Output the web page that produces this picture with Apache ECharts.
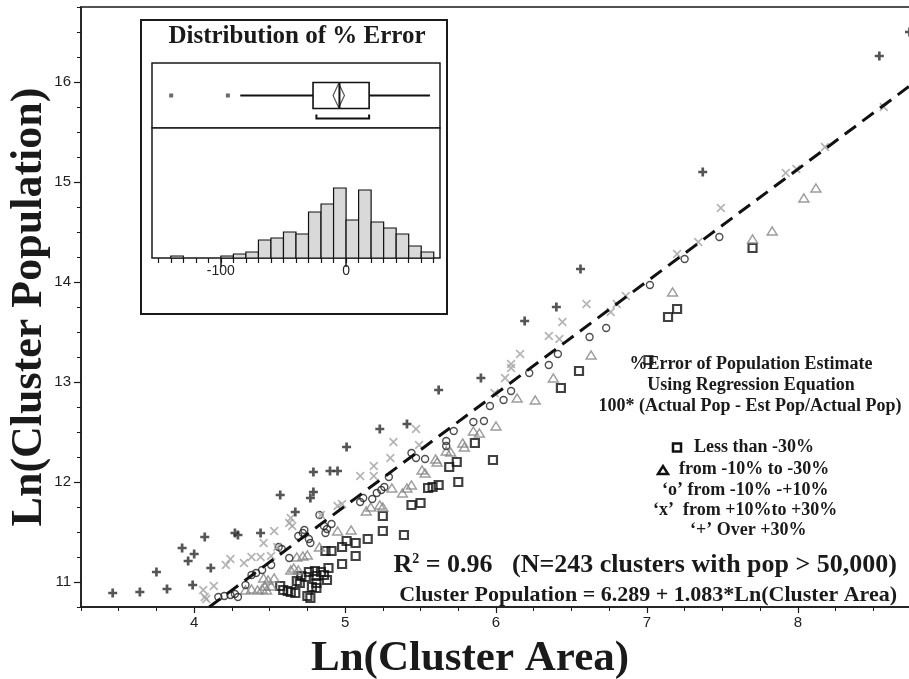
<!DOCTYPE html>
<html><head><meta charset="utf-8">
<script src="https://cdn.jsdelivr.net/npm/echarts@6/dist/echarts.min.js"></script>
<style>html,body{margin:0;padding:0;background:#fff}#c{width:909px;height:679px}</style>
</head><body><div id="c"></div>
<script>
// ---- Scatter data: [Ln(Cluster Area), Ln(Cluster Population)] by % error class ----
const overPlus30 = [[3.46,10.89],[3.64,10.90],[3.75,11.10],[3.82,10.93],[3.92,11.34],[3.96,11.21],[3.99,10.97],[4.00,11.28],[4.07,11.45],[4.11,11.14],[4.27,11.49],[4.29,11.47],[4.44,11.49],[4.57,11.87],[4.67,11.70],[4.77,11.84],[4.79,11.90],[4.79,12.10],[4.90,12.11],[4.95,12.11],[5.01,12.35],[5.23,12.53],[5.41,12.58],[5.62,12.92],[5.90,13.04],[6.19,13.61],[6.40,13.75],[6.56,14.13],[7.37,15.10],[8.54,16.26],[8.74,16.50]];
const plus10to30 = [[4.06,10.92],[4.07,10.85],[4.08,10.83],[4.13,10.96],[4.21,11.17],[4.24,11.23],[4.33,11.19],[4.38,11.25],[4.44,11.25],[4.46,11.39],[4.51,11.26],[4.53,11.51],[4.55,11.35],[4.63,11.59],[4.65,11.56],[4.64,11.64],[4.84,11.67],[4.95,11.76],[4.98,11.78],[5.10,12.06],[5.19,12.16],[5.19,12.06],[5.30,12.24],[5.32,12.40],[5.47,12.53],[5.49,12.37],[5.99,12.89],[6.06,13.04],[6.10,13.14],[6.10,13.18],[6.16,13.28],[6.35,13.46],[6.42,13.43],[6.44,13.60],[6.60,13.78],[6.76,13.70],[6.80,13.78],[6.86,13.86],[7.20,14.28],[7.34,14.40],[7.49,14.74],[7.92,15.09],[7.99,15.13],[8.18,15.35],[8.57,15.75]];
const within10 = [[4.16,10.85],[4.20,10.86],[4.24,10.87],[4.27,10.88],[4.29,10.85],[4.34,10.97],[4.38,11.07],[4.41,11.09],[4.45,11.12],[4.51,11.17],[4.56,11.35],[4.58,11.33],[4.63,11.24],[4.69,11.46],[4.72,11.49],[4.73,11.52],[4.76,11.43],[4.77,11.39],[4.83,11.67],[4.86,11.56],[4.88,11.53],[4.87,11.49],[4.91,11.58],[5.10,11.80],[5.12,11.84],[5.18,11.83],[5.21,11.89],[5.24,11.92],[5.26,11.95],[5.29,12.05],[5.44,12.29],[5.47,12.24],[5.53,12.23],[5.67,12.41],[5.67,12.36],[5.72,12.51],[5.85,12.60],[5.92,12.61],[5.96,12.76],[6.05,12.82],[6.10,12.91],[6.22,13.09],[6.35,13.17],[6.41,13.28],[6.62,13.45],[6.73,13.54],[7.02,13.97],[7.25,14.23],[7.48,14.45]];
const minus10to30 = [[4.34,10.92],[4.38,10.93],[4.42,10.92],[4.45,10.93],[4.48,10.92],[4.47,10.96],[4.51,10.96],[4.46,11.04],[4.49,11.02],[4.53,11.04],[4.64,11.12],[4.66,11.14],[4.69,11.12],[4.68,11.25],[4.72,11.26],[4.75,11.27],[4.83,11.35],[4.95,11.51],[5.04,11.52],[5.14,11.71],[5.17,11.75],[5.23,11.77],[5.25,11.75],[5.31,11.94],[5.38,11.89],[5.41,11.94],[5.44,11.97],[5.51,12.12],[5.53,12.09],[5.60,12.23],[5.61,12.20],[5.67,12.31],[5.70,12.30],[5.78,12.39],[5.79,12.35],[5.85,12.51],[5.89,12.49],[6.00,12.56],[6.14,12.84],[6.26,12.82],[6.38,13.04],[6.63,13.27],[7.17,13.90],[7.70,14.43],[7.83,14.51],[8.04,14.84],[8.12,14.94]];
const belowMinus30 = [[4.57,10.96],[4.59,10.92],[4.62,10.91],[4.64,10.90],[4.67,10.89],[4.68,11.01],[4.71,11.06],[4.70,10.99],[4.74,11.05],[4.76,11.10],[4.80,11.11],[4.81,11.06],[4.84,11.10],[4.86,11.07],[4.88,11.02],[4.89,11.14],[4.78,10.95],[4.81,10.99],[4.81,10.94],[4.75,10.86],[4.77,10.84],[4.87,11.31],[4.91,11.31],[4.98,11.18],[4.98,11.35],[5.01,11.41],[5.07,11.39],[5.07,11.26],[5.15,11.43],[5.25,11.66],[5.25,11.51],[5.39,11.47],[5.44,11.77],[5.50,11.79],[5.55,11.94],[5.58,11.95],[5.62,11.97],[5.69,12.15],[5.74,12.20],[5.75,12.00],[5.86,12.39],[5.98,12.22],[6.43,12.94],[6.55,13.11],[7.01,13.22],[7.14,13.65],[7.20,13.73],[7.70,14.34]];
const regressionLine = [[4.10,10.75],[8.75,15.97]];
const xTickLabels = [4,5,6,7,8];
const yTickLabels = [11,12,13,14,15,16];

// ---- Inset: distribution of % error ----
const histBinStart = [-140,-130,-120,-110,-100,-90,-80,-70,-60,-50,-40,-30,-20,-10,0,10,20,30,40,50,60];
const histCounts   = [1,0,0,0,1,2,3,9,10,13,12,23,27,35,19,34,18,15,12,6,3];
const histBinWidth = 10;
const boxStats = [-84.5,-26.4,-5.3,18.4,67];   // whisker low, Q1, median, Q3, whisker high
const meanDiamond = [-10.4,-5.9,-1.3];         // CI low, mean, CI high
const shortestHalf = [-23.7,18.4];
const boxOutliers = [-139.7,-94.4];
const insetMinorTicks = [-150,-140,-130,-120,-110,-100,-90,-80,-70,-60,-50,-40,-30,-20,-10,0,10,20,30,40,50,60,70];
const insetTickLabels = [-100,0];

const SERIF = '"Liberation Serif","Times New Roman",serif';
const SANS = '"Liberation Sans Narrow","Liberation Sans",Arial,sans-serif';
const INK = '#1a1a1a';

const plusPath = 'path://M3.5,0H6.5V3.5H10V6.5H6.5V10H3.5V6.5H0V3.5H3.5Z';
const xPath = 'path://M0,1.3L1.3,0L5,3.7L8.7,0L10,1.3L6.3,5L10,8.7L8.7,10L5,6.3L1.3,10L0,8.7L3.7,5Z';

const chart = echarts.init(document.getElementById('c'), null, {renderer:'canvas'});

const histData = histBinStart.map((b,i)=>[b, b+histBinWidth, histCounts[i]]);
const boxRow = [...boxStats, ...meanDiamond, ...shortestHalf];

const option = {
  backgroundColor:'#fff',
  animation:false,
  grid:[
    {left:81, top:7, width:830, height:600, show:true, borderColor:INK, borderWidth:1.5, backgroundColor:'transparent', outerBoundsMode:'none', containLabel:false},
    {left:152, top:63, width:288, height:65, show:true, borderColor:INK, borderWidth:1.5, backgroundColor:'#fff', outerBoundsMode:'none', containLabel:false},
    {left:152, top:128, width:288, height:130, show:true, borderColor:INK, borderWidth:1.5, backgroundColor:'#fff', outerBoundsMode:'none', containLabel:false}
  ],
  xAxis:[
    {gridIndex:0, type:'value', position:'bottom', min:3.25, max:8.75,
     axisLine:{show:true, lineStyle:{color:INK, width:1.5}},
     axisTick:{show:true, customValues:xTickLabels, length:6, lineStyle:{color:INK, width:1.2}},
     axisLabel:{customValues:xTickLabels, color:'#222', fontSize:15, fontFamily:SANS, margin:8},
     splitLine:{show:false},
     name:'Ln(Cluster Area)', nameLocation:'middle', nameGap:30,
     nameTextStyle:{fontFamily:SERIF, fontWeight:'bold', fontSize:43, color:INK, padding:[0,52,0,0]}},
    {gridIndex:0, type:'value', position:'bottom', min:3.25, max:8.75, interval:0.25,
     axisLine:{show:false}, axisTick:{show:true, length:4, lineStyle:{color:INK, width:1}},
     axisLabel:{show:false}, splitLine:{show:false}},
    {gridIndex:1, type:'value', min:-155, max:75, show:false},
    {gridIndex:2, type:'value', position:'bottom', min:-155, max:75,
     axisLine:{show:false},
     axisTick:{show:true, customValues:insetMinorTicks, length:5, lineStyle:{color:INK, width:1.2}},
     axisLabel:{show:false}, splitLine:{show:false}},
    {gridIndex:2, type:'value', position:'bottom', min:-155, max:75,
     axisLine:{show:false},
     axisTick:{show:true, customValues:insetTickLabels, length:9, lineStyle:{color:INK, width:1.5}},
     axisLabel:{customValues:insetTickLabels, color:'#222', fontSize:14, fontFamily:SANS, margin:6},
     splitLine:{show:false}}
  ],
  yAxis:[
    {gridIndex:0, type:'value', position:'left', min:10.75, max:16.75,
     axisLine:{show:true, lineStyle:{color:INK, width:1.5}},
     axisTick:{show:true, customValues:yTickLabels, length:7, lineStyle:{color:INK, width:1.2}},
     axisLabel:{customValues:yTickLabels, color:'#222', fontSize:15, fontFamily:SANS, margin:10},
     splitLine:{show:false},
     name:'Ln(Cluster Population)', nameLocation:'middle', nameGap:29, nameRotate:90, nameMoveOverlap:false,
     nameTextStyle:{fontFamily:SERIF, fontWeight:'bold', fontSize:44, color:INK}},
    {gridIndex:0, type:'value', position:'left', min:10.75, max:16.75, interval:0.25,
     axisLine:{show:false}, axisTick:{show:true, length:4, lineStyle:{color:INK, width:1}},
     axisLabel:{show:false}, splitLine:{show:false}},
    {gridIndex:1, type:'value', min:0, max:1, show:false},
    {gridIndex:2, type:'value', min:0, max:65, show:false}
  ],
  series:[
    {type:'scatter', name:'Less than -30%', xAxisIndex:0, yAxisIndex:0, data:belowMinus30,
     symbol:'rect', symbolSize:8, itemStyle:{color:'rgba(255,255,255,0)', borderColor:'#111', borderWidth:2.2}, z:3},
    {type:'scatter', name:'from -10% to -30%', xAxisIndex:0, yAxisIndex:0, data:minus10to30,
     symbol:'triangle', symbolSize:[10,8], itemStyle:{color:'rgba(255,255,255,0)', borderColor:'#858585', borderWidth:1.4}, z:3},
    {type:'scatter', name:'from -10% to +10%', xAxisIndex:0, yAxisIndex:0, data:within10,
     symbol:'circle', symbolSize:7, itemStyle:{color:'rgba(255,255,255,0)', borderColor:'#222', borderWidth:1.4}, z:3},
    {type:'scatter', name:'from +10% to +30%', xAxisIndex:0, yAxisIndex:0, data:plus10to30,
     symbol:xPath, symbolSize:9, itemStyle:{color:'#a0a0a0'}, z:3},
    {type:'scatter', name:'Over +30%', xAxisIndex:0, yAxisIndex:0, data:overPlus30,
     symbol:plusPath, symbolSize:9, itemStyle:{color:'#2a2a2a'}, z:3},
    {type:'line', name:'Regression', xAxisIndex:0, yAxisIndex:0, data:regressionLine,
     showSymbol:false, symbol:'none', clip:true,
     lineStyle:{color:'#111', width:3, type:[14,8]}, z:4},
    {type:'custom', name:'hist', xAxisIndex:3, yAxisIndex:3, data:histData,
     encode:{x:[0,1], y:2}, z:5,
     renderItem:function(params, api){
       const p0 = api.coord([api.value(0), api.value(2)]);
       const p1 = api.coord([api.value(1), 0]);
       if (api.value(2) <= 0) return null;
       return {type:'rect', shape:{x:p0[0], y:p0[1], width:p1[0]-p0[0], height:p1[1]-p0[1]},
               style:{fill:'#d9d9d9', stroke:'#111', lineWidth:1.2}};
     }},
    {type:'custom', name:'box', xAxisIndex:2, yAxisIndex:2, data:[boxRow],
     encode:{x:[0,4]}, z:5,
     renderItem:function(params, api){
       const bx = i => api.coord([api.value(i), 0.5])[0];
       const yc = api.coord([0, 0.5])[1];
       const wl=bx(0), q1=bx(1), md=bx(2), q3=bx(3), wh=bx(4), ml=bx(5), mn=bx(6), mh=bx(7), sl=bx(8), sh=bx(9);
       const hh = 13, st={stroke:'#111', lineWidth:2};
       return {type:'group', children:[
         {type:'line', shape:{x1:wl,y1:yc,x2:q1,y2:yc}, style:st},
         {type:'line', shape:{x1:q3,y1:yc,x2:wh,y2:yc}, style:st},
         {type:'rect', shape:{x:q1,y:yc-hh,width:q3-q1,height:2*hh}, style:{fill:'#fff', stroke:'#111', lineWidth:1.6}},
         {type:'polygon', shape:{points:[[ml,yc],[mn,yc-hh+1],[mh,yc],[mn,yc+hh-1]]}, style:{fill:'none', stroke:'#555', lineWidth:1.2}},
         {type:'line', shape:{x1:md,y1:yc-hh,x2:md,y2:yc+hh}, style:st},
         {type:'polyline', shape:{points:[[sl,yc+19],[sl,yc+23],[sh,yc+23],[sh,yc+19]]}, style:{fill:'none', stroke:'#111', lineWidth:2}}
       ]};
     }},
    {type:'scatter', name:'outliers', xAxisIndex:2, yAxisIndex:2,
     data:boxOutliers.map(v=>[v,0.5]), symbol:'rect', symbolSize:4, itemStyle:{color:'#444'}, z:6}
  ],
  graphic:[
    {type:'rect', shape:{x:141, y:20, width:306, height:294}, style:{fill:'none', stroke:INK, lineWidth:2}, z:1},
    {type:'text', x:297, y:37, style:{text:'Distribution of % Error', font:'bold 25px '+SERIF, fill:INK, textAlign:'center', textVerticalAlign:'middle'}, z:10},
    {type:'text', x:751, y:364, style:{text:'%Error of Population Estimate', font:'bold 18px '+SERIF, fill:INK, textAlign:'center', textVerticalAlign:'middle'}, z:10},
    {type:'text', x:751, y:385, style:{text:'Using Regression Equation', font:'bold 18px '+SERIF, fill:INK, textAlign:'center', textVerticalAlign:'middle'}, z:10},
    {type:'text', x:750, y:406, style:{text:'100* (Actual Pop - Est Pop/Actual Pop)', font:'bold 18px '+SERIF, fill:INK, textAlign:'center', textVerticalAlign:'middle'}, z:10},
    {type:'rect', shape:{x:673, y:443.5, width:8, height:8}, style:{fill:'#fff', stroke:'#111', lineWidth:2.5}, z:10},
    {type:'text', x:694, y:447.5, style:{text:'Less than -30%', font:'bold 18px '+SERIF, fill:INK, textAlign:'left', textVerticalAlign:'middle'}, z:10},
    {type:'polygon', shape:{points:[[658,474],[663,466],[668,474]]}, style:{fill:'#fff', stroke:'#111', lineWidth:2.5}, z:10},
    {type:'text', x:679, y:469, style:{text:'from -10% to -30%', font:'bold 18px '+SERIF, fill:INK, textAlign:'left', textVerticalAlign:'middle'}, z:10},
    {type:'text', x:662, y:490, style:{text:'\u2018o\u2019 from -10% -+10%', font:'bold 18px '+SERIF, fill:INK, textAlign:'left', textVerticalAlign:'middle'}, z:10},
    {type:'text', x:653, y:510, style:{text:'\u2018x\u2019  from +10%to +30%', font:'bold 18px '+SERIF, fill:INK, textAlign:'left', textVerticalAlign:'middle'}, z:10},
    {type:'text', x:690, y:530, style:{text:'\u2018+\u2019 Over +30%', font:'bold 18px '+SERIF, fill:INK, textAlign:'left', textVerticalAlign:'middle'}, z:10},
    {type:'text', x:897, y:565, style:{text:'{a|R}{s|2}{a| = 0.96   (N=243 clusters with pop > 50,000)}', textAlign:'right', textVerticalAlign:'middle',
      rich:{a:{font:'bold 26px '+SERIF, fill:INK, color:INK}, s:{font:'bold 14px '+SERIF, fill:INK, color:INK, verticalAlign:'top', padding:[0,0,10,0]}}}, z:10},
    {type:'text', x:897, y:595, style:{text:'Cluster Population = 6.289 + 1.083*Ln(Cluster Area)', font:'bold 22px '+SERIF, fill:INK, textAlign:'right', textVerticalAlign:'middle'}, z:10}
  ]
};
chart.setOption(option);
</script>
</body></html>
